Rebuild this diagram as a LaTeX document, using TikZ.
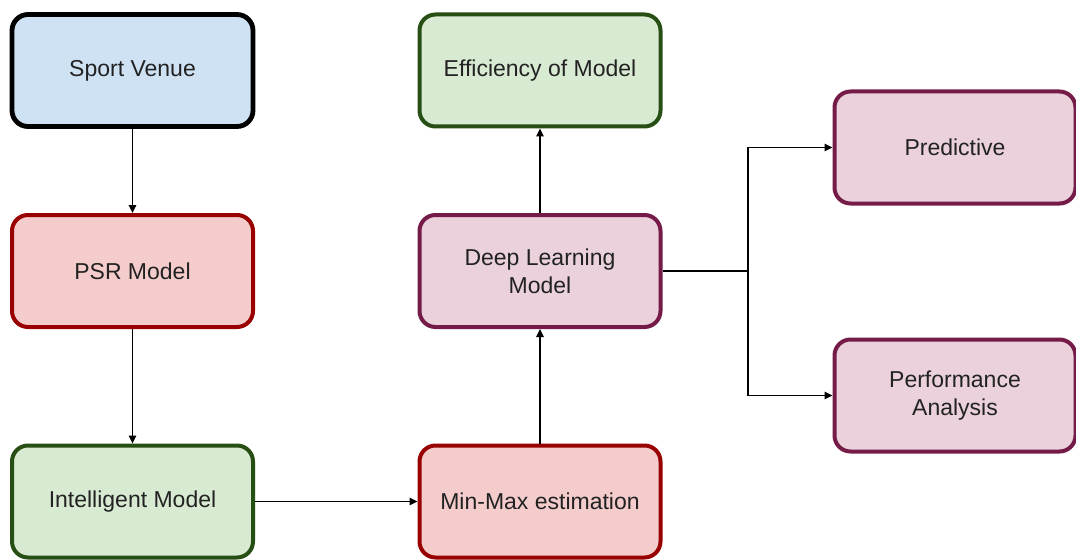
\documentclass[tikz,border=0pt]{standalone}
\usepackage{fontspec}
\setmainfont{Liberation Sans}
\usetikzlibrary{arrows.meta}
\definecolor{blueFill}{HTML}{CFE2F3}
\definecolor{redFill}{HTML}{F4CCCC}
\definecolor{redLine}{HTML}{990000}
\definecolor{greenFill}{HTML}{D9EAD3}
\definecolor{greenLine}{HTML}{274E13}
\definecolor{plumFill}{HTML}{EAD1DC}
\definecolor{plumLine}{HTML}{741B47}
\definecolor{ink}{HTML}{222222}
\begin{document}
\begin{tikzpicture}[x=0.75pt,y=-0.75pt,
  box/.style={draw, rounded corners=12pt, line width=3pt, minimum width=180.75pt,
    minimum height=84pt, inner sep=0pt, align=center, text=ink,
    font=\fontsize{17.25pt}{21pt}\selectfont},
  bluebox/.style={box, fill=blueFill, draw=black, line width=3.6pt},
  redbox/.style={box, fill=redFill, draw=redLine},
  greenbox/.style={box, fill=greenFill, draw=greenLine},
  plumbox/.style={box, fill=plumFill, draw=plumLine},
  link/.style={draw=black, line width=1.1pt, -{Triangle[length=6pt,width=5.5pt]}}]
\useasboundingbox (0,0) rectangle (1076,560);
\fill[white] (0,0) rectangle (1076,560);

\node[bluebox]  (sv)   at (132.5,70.5)  {Sport Venue};
\node[redbox]   (psr)  at (132.5,271)   {PSR Model};
\node[greenbox] (im)   at (132.5,501.5) {Intelligent Model};
\node[greenbox] (eff)  at (540,70.5)    {Efficiency of Model};
\node[plumbox]  (dl)   at (540,271)     {Deep Learning\\Model};
\node[redbox]   (mm)   at (540,501.5)   {Min-Max estimation};
\node[plumbox]  (pred) at (955,147.5)   {Predictive};
\node[plumbox]  (perf) at (955,395.5)   {Performance\\Analysis};

\coordinate (fork) at (748,271);

\draw[link] (sv) -- (psr);
\draw[link] (psr) -- (im);
\draw[link] (im) -- (mm);
\draw[link] (mm) -- (dl);
\draw[link] (dl) -- (eff);
\draw[line width=1.1pt] (dl.east) -- (fork);
\draw[link] (fork) |- (pred.west);
\draw[link] (fork) |- (perf.west);
\end{tikzpicture}
\end{document}
